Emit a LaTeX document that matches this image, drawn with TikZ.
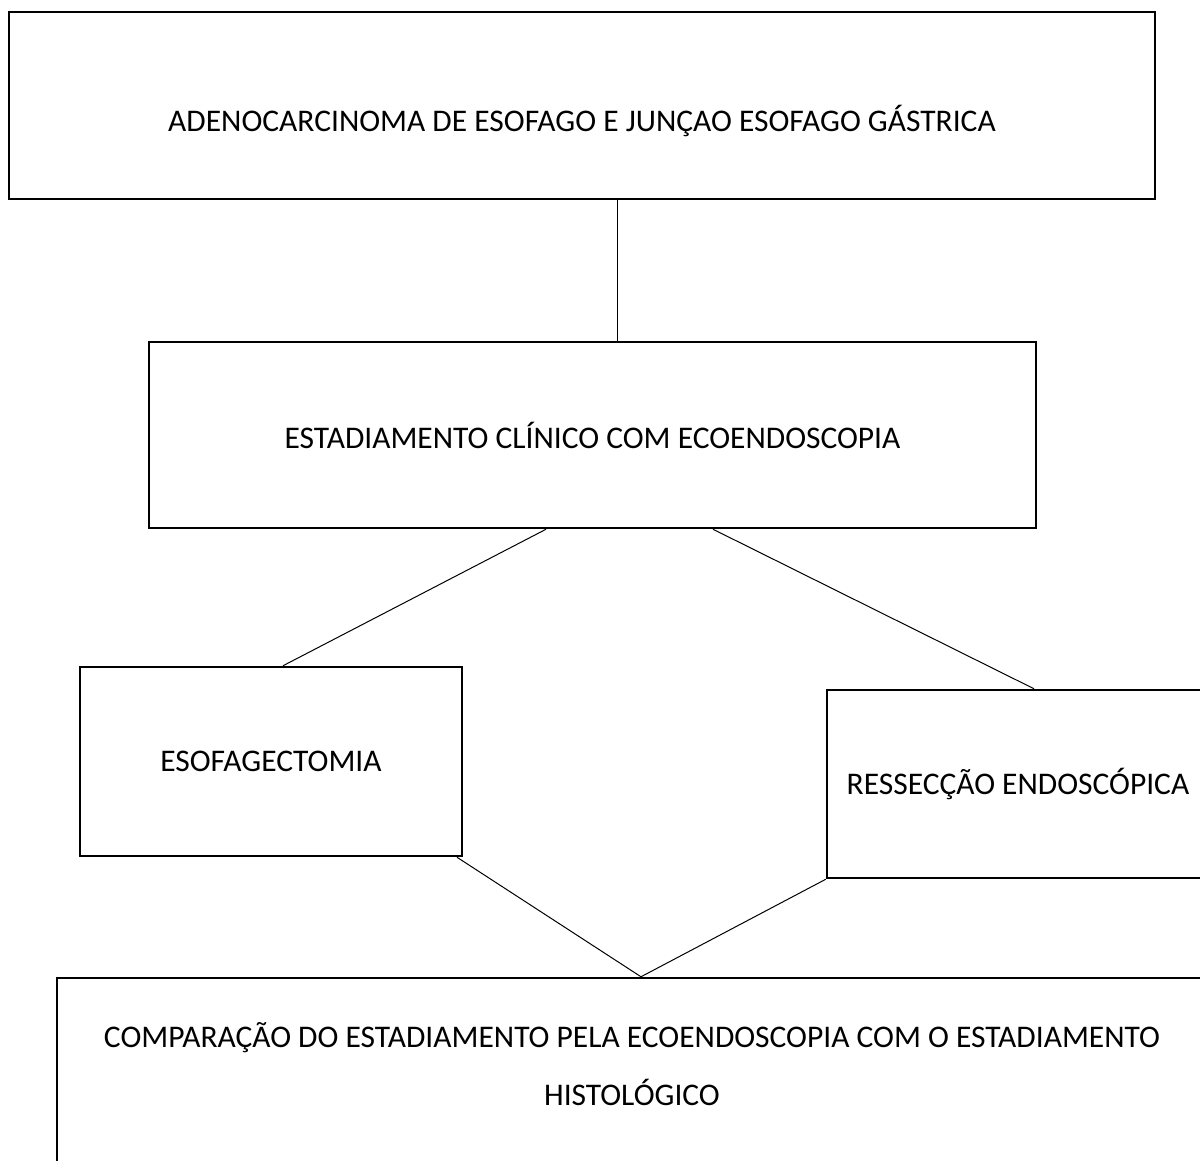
\documentclass[tikz,border=0pt]{standalone}
\usepackage{fontspec}
\setmainfont{Carlito}
\begin{document}
\begin{tikzpicture}[x=1pt,y=-1pt,
  box/.style={draw=black, line width=2.5pt, fill=white, rectangle, inner sep=0pt, align=center, font=\fontsize{31.5}{58}\selectfont},
  conn/.style={draw=black, line width=1pt}]
\useasboundingbox (0,0) rectangle (1200,1160);
\clip (0,0) rectangle (1200,1160);
\fill[white] (0,0) rectangle (1200,1160);
% boxes
\node[box, minimum width=1146pt, minimum height=187pt,
  label={[font=\fontsize{31.5}{38}\selectfont, yshift=-15pt]center:ADENOCARCINOMA DE ESOFAGO E JUNÇAO ESOFAGO GÁSTRICA}] (top) at (582,105.5) {};
\node[box, minimum width=887pt, minimum height=186pt] (mid) at (592.5,435) {ESTADIAMENTO CLÍNICO COM ECOENDOSCOPIA};
\node[box, minimum width=382pt, minimum height=189pt] (esof) at (271,761.5) {ESOFAGECTOMIA};
\node[box, minimum width=382pt, minimum height=188pt] (ress) at (1018,784) {RESSECÇÃO ENDOSCÓPICA};
\node[box, minimum width=1150pt, minimum height=240pt,
  label={[font=\fontsize{31.5}{58}\selectfont, align=center, yshift=34pt]center:COMPARAÇÃO DO ESTADIAMENTO PELA ECOENDOSCOPIA COM O ESTADIAMENTO\\HISTOLÓGICO}] (comp) at (632,1098) {};
% connectors
\draw[conn] (top.south -| 617,0) -- (mid.north -| 617,0);
\draw[conn] (mid.south -| 546,0) -- (esof.north -| 283,0);
\draw[conn] (mid.south -| 713,0) -- (ress.north -| 1034,0);
\draw[conn] (esof.south -| 457,0) -- (comp.north -| 641,0);
\draw[conn] (ress.south west) -- (comp.north -| 641,0);
\end{tikzpicture}
\end{document}
